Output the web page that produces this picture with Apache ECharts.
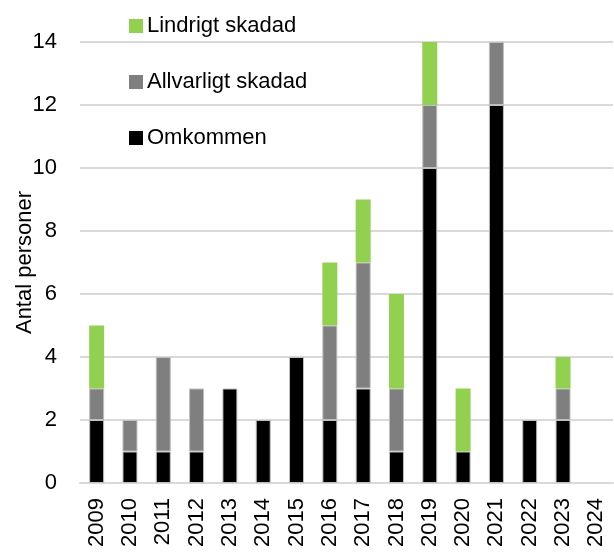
<!DOCTYPE html>
<html>
<head>
<meta charset="utf-8">
<script src="https://cdn.jsdelivr.net/npm/echarts@6/dist/echarts.min.js"></script>
<style>
  html, body { margin: 0; padding: 0; background: #fff; }
  #chart { width: 614px; height: 554px; }
</style>
</head>
<body>
<div id="chart"></div>
<script>
// år och antal personer per kategori
const years = ['2009', '2010', '2011', '2012', '2013', '2014', '2015', '2016',
  '2017', '2018', '2019', '2020', '2021', '2022', '2023', '2024']
const omkommen = [2, 1, 1, 1, 3, 2, 4, 2, 3, 1, 10, 1, 12, 2, 2, 0]
const allvarligt = [1, 1, 3, 2, 0, 0, 0, 3, 4, 2, 2, 0, 2, 0, 1, 0]
const lindrigt = [2, 0, 0, 0, 0, 0, 0, 2, 2, 3, 2, 2, 0, 0, 1, 0]
const yTicks = [0, 2, 4, 6, 8, 10, 12, 14]

const font = 'Liberation Sans, Arial, sans-serif'

// nollor ritas inte (annars syns kantlinjen)
const clean = arr => arr.map(v => (v === 0 ? '-' : v))

const chart = echarts.init(document.getElementById('chart'))

const option = {
  animation: false,
  textStyle: { fontFamily: font },
  grid: {
    left: 80,
    right: 1,
    top: 42,
    bottom: 71,
    outerBoundsMode: 'none'
  },
  legend: {
    orient: 'vertical',
    left: 124,
    top: 10,
    icon: 'rect',
    itemWidth: 14,
    itemHeight: 14,
    itemGap: 34,
    data: ['Lindrigt skadad', 'Allvarligt skadad', 'Omkommen'],
    itemStyle: { borderWidth: 0 },
    textStyle: { fontSize: 22, color: '#000', fontFamily: font, padding: [0, 0, 0, -1] }
  },
  xAxis: {
    type: 'category',
    data: years,
    axisLine: { lineStyle: { color: '#d9d9d9', width: 2 } },
    axisTick: { show: false },
    axisLabel: {
      rotate: 90,
      margin: 15,
      fontSize: 22,
      color: '#000',
      fontFamily: font,
      interval: 0
    }
  },
  yAxis: {
    type: 'value',
    min: yTicks[0],
    max: yTicks[yTicks.length - 1],
    interval: 2,
    name: 'Antal personer',
    nameLocation: 'middle',
    nameGap: 44,
    nameMoveOverlap: false,
    nameTextStyle: { fontSize: 22, color: '#000', fontFamily: font },
    axisLine: { show: false },
    axisTick: { show: false },
    axisLabel: { margin: 23, fontSize: 22, color: '#000', fontFamily: font },
    splitLine: { lineStyle: { color: '#d9d9d9', width: 2 } }
  },
  series: [
    {
      name: 'Omkommen',
      type: 'bar',
      stack: 'total',
      barWidth: '45%',
      data: clean(omkommen),
      itemStyle: { color: '#000000', borderColor: '#bfbfbf', borderWidth: 1 }
    },
    {
      name: 'Allvarligt skadad',
      type: 'bar',
      stack: 'total',
      data: clean(allvarligt),
      itemStyle: { color: '#7f7f7f', borderColor: '#bfbfbf', borderWidth: 1 }
    },
    {
      name: 'Lindrigt skadad',
      type: 'bar',
      stack: 'total',
      data: clean(lindrigt),
      itemStyle: { color: '#92d050' }
    }
  ]
}

chart.setOption(option)
</script>
</body>
</html>
